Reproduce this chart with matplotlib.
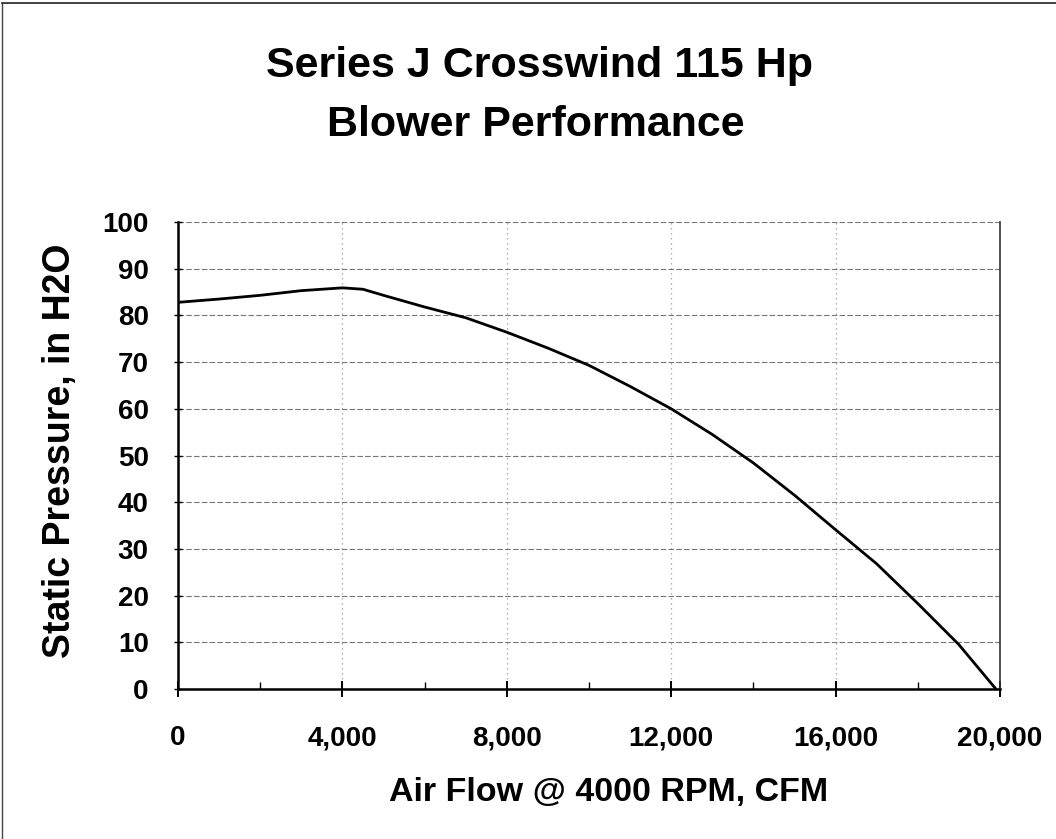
import matplotlib
matplotlib.use("Agg")
import matplotlib.pyplot as plt
from matplotlib.ticker import FuncFormatter, MultipleLocator
from matplotlib.lines import Line2D

plt.rcParams['font.family'] = ['Liberation Sans', 'DejaVu Sans']

# Data
air_flow = [0, 1000, 2000, 3000, 4000, 4500, 5000, 6000, 7000, 8000, 9000,
            10000, 11000, 12000, 13000, 14000, 15000, 16000, 17000, 18000, 19000, 19900]
static_pressure = [82.8, 83.5, 84.3, 85.3, 85.9, 85.6, 84.3, 81.8, 79.5, 76.4, 73.0,
                   69.3, 64.8, 60.0, 54.5, 48.4, 41.5, 34.1, 26.8, 18.3, 9.5, 0.0]
x_ticks = [0, 4000, 8000, 12000, 16000, 20000]
y_ticks = [0, 10, 20, 30, 40, 50, 60, 70, 80, 90, 100]
title_lines = ["Series J Crosswind 115 Hp", "Blower Performance"]
x_label = "Air Flow @ 4000 RPM, CFM"
y_label = "Static Pressure, in H2O"

W, H = 1056, 839
fig = plt.figure(figsize=(W / 100, H / 100), dpi=100)
fig.patch.set_facecolor('white')

left, right, bottom, top = 178 / W, 1000 / W, 1 - 689 / H, 1 - 222 / H
ax = fig.add_axes([left, bottom, right - left, top - bottom])

ax.plot(air_flow, static_pressure, color='black', linewidth=2.0, zorder=3)

ax.set_xlim(0, 20000)
ax.set_ylim(0, 100)
ax.set_xticks(x_ticks)
ax.set_yticks(y_ticks)
ax.xaxis.set_minor_locator(MultipleLocator(2000))
ax.xaxis.set_major_formatter(FuncFormatter(lambda v, p: f"{int(v):,}"))

ax.grid(True, which='major', axis='y', color='#777777', linestyle=(0, (5, 2)), linewidth=0.8, zorder=1)
ax.grid(True, which='major', axis='x', color='#999999', linestyle=(0, (1, 3)), linewidth=0.9, zorder=1)

for s in ['left', 'bottom']:
    ax.spines[s].set_linewidth(1.8)
    ax.spines[s].set_color('black')
ax.spines['right'].set_linewidth(1.2)
ax.spines['right'].set_color('#333333')
ax.spines['top'].set_visible(False)

ax.tick_params(axis='x', which='major', direction='inout', length=12, width=1.4,
               pad=20, labelsize=20)
ax.tick_params(axis='x', which='minor', direction='in', length=5, width=1.0)
ax.tick_params(axis='y', which='major', direction='inout', length=6, width=1.0,
               pad=18, labelsize=20)
for lab in ax.get_xticklabels() + ax.get_yticklabels():
    lab.set_fontweight('bold')

fig.text(540 / W, 1 - 66 / H, title_lines[0], ha='center', va='center',
         fontsize=31, fontweight='bold')
fig.text(536 / W, 1 - 125 / H, title_lines[1], ha='center', va='center',
         fontsize=31, fontweight='bold')
fig.text(609 / W, 1 - 793 / H, x_label, ha='center', va='center',
         fontsize=24.5, fontweight='bold')
fig.text(60 / W, 1 - 451 / H, y_label, ha='center', va='center',
         rotation=90, fontsize=27, fontweight='bold')

# Figure frame (top and left edges)
fig.add_artist(Line2D([2 / W, 2 / W], [0, 1 - 3 / H], color='#444444', linewidth=1.0))
fig.add_artist(Line2D([2 / W, 1], [1 - 3 / H, 1 - 3 / H], color='#222222', linewidth=1.2))

fig.savefig('out.png', dpi=100, facecolor='white')
